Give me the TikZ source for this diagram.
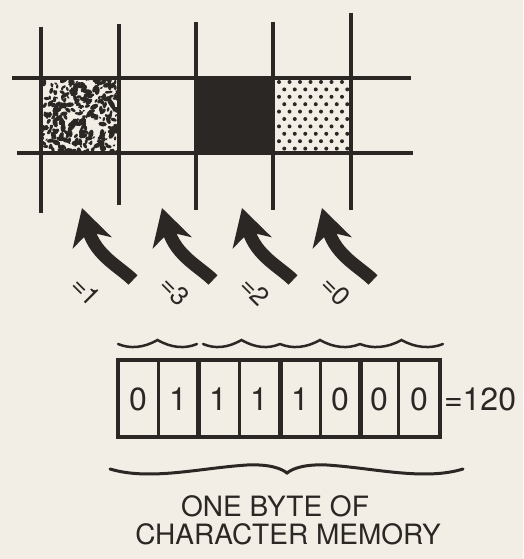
\documentclass[tikz,border=0pt]{standalone}
\usepackage{fontspec}
\setsansfont{TeX Gyre Heros}
\usetikzlibrary{arrows.meta, calc}
\definecolor{cink}{HTML}{2A2724}
\definecolor{cpaper}{HTML}{F2EEE5}
\tikzset{
  every picture/.style={font=\sffamily, line width=4pt, x=1pt, y=-1pt},
  gridline/.style={draw=cink, line width=4pt},
  cellbox/.style={draw=cink, line width=3.5pt},
  bit/.style={font=\sffamily\fontsize{32}{32}\selectfont, text=cink, inner sep=0pt},
  pairmark/.style={font=\sffamily\fontsize{26}{26}\selectfont, text=cink, rotate=-45, inner sep=0pt},
  caption/.style={font=\sffamily\fontsize{28}{28}\selectfont, text=cink, inner sep=0pt},
  pairarrow/.style={draw=cink, line width=13pt, -{Stealth[length=36pt, width=40pt, inset=11pt]}},
  braceline/.style={draw=cink, line width=3pt, line cap=round},
}

\begin{document}
\begin{tikzpicture}
  \useasboundingbox[fill=cpaper] (0,0) rectangle (523,559);
  % screen pixels: marbled, solid, dotted
  \begin{scope}
    \clip (41,78) rectangle (119,153);
    \pgfmathsetseed{31}
    \foreach \i in {1,...,300} {
      \pgfmathsetmacro\px{41+78*rnd}
      \pgfmathsetmacro\py{78+75*rnd}
      \pgfmathsetmacro\ra{0.8+1.8*rnd}
      \pgfmathsetmacro\an{360*rnd}
      \fill[cink, rotate around={\an:(\px,\py)}] (\px,\py) ellipse ({\ra*1.8} and \ra);
    }
  \end{scope}
  \fill[cink] (196,78) rectangle (273,153);
  \begin{scope}
    \clip (273,78) rectangle (351,153);
    \foreach \r in {0,...,9} {
      \pgfmathsetmacro\sh{mod(\r,2)*5.25}
      \foreach \c in {0,...,7} \fill[cink] ({279+\sh+10.5*\c},{82+7.4*\r}) circle (2);
    }
  \end{scope}
  \foreach \x/\t/\b in {41/27/213, 119/24/205, 196/22/210, 273/22/210, 351/13/210} \draw[gridline] (\x,\t) -- (\x,\b);
  \draw[gridline] (12,78) -- (411,78);
  \draw[gridline] (17,153) -- (413,153);
  % colour numbers for the bit pairs
  \foreach \n/\dx in {1/0, 2/80, 3/160, 4/240} {
    \coordinate (tail\n) at (133+\dx,280);
    \coordinate (tip\n) at (82+\dx,208);
    \draw[pairarrow] (tail\n) .. controls +(-13,-13) and +(14,48) .. (tip\n);
  }
  \foreach \v/\x [count=\i] in {1/86, 3/175, 2/255, 0/336} \node[pairmark] (mark\i) at (\x,291) {=\v};
  % the byte
  \foreach \a/\b in {118/197, 203/280, 280/360, 360/443} {
    \pgfmathsetmacro\m{(\a+\b)/2}
    \draw[braceline, line width=2.5pt] (\a,344) .. controls (\a+12,349) and (\m-14,348) .. (\m,340) .. controls (\m+14,348) and (\b-12,349) .. (\b,344);
  }
  \draw[cellbox] (118,360) rectangle (440,437);
  \foreach \x/\w in {158/3, 198/5, 239/3, 280/5, 320/3, 360/5, 398/3} \draw[draw=cink, line width=\w pt] (\x,360) -- (\x,437);
  \foreach \b/\x [count=\i] in {0/138, 1/178, 1/218, 1/259, 1/300, 0/340, 0/379, 0/419} \node[bit] (bit\i) at (\x,399) {\b};
  \node[bit, anchor=west] (value) at (442,399) {=120};
  \draw[braceline] (110,469) .. controls (150,481) and (200,468) .. (247,465) .. controls (268,464) and (281,468) .. (287,473) .. controls (293,468) and (306,464) .. (327,465) .. controls (374,468) and (424,481) .. (463,469);
  \node[caption] (cap1) at (275,506) {ONE BYTE OF};
  \node[caption] (cap2) at (288,534) {CHARACTER MEMORY};
\end{tikzpicture}
\end{document}
